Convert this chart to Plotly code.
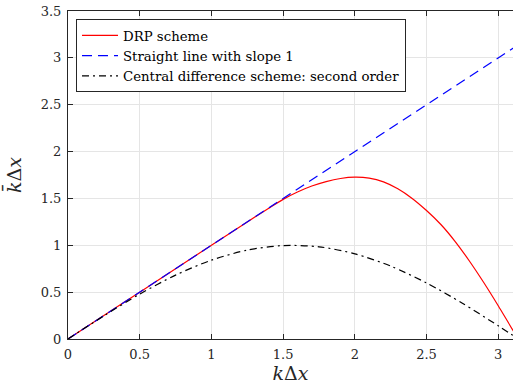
import plotly.graph_objects as go

# DRP scheme
drp_x = [0, 0.25, 0.5, 0.75, 1.0, 1.25, 1.4, 1.5, 1.6, 1.7, 1.8, 1.9, 2.0, 2.1, 2.2, 2.3, 2.4, 2.5, 2.6, 2.7, 2.8, 2.9, 3.0, 3.1, 3.1416]
drp_y = [0, 0.25, 0.5, 0.75, 1.0, 1.249, 1.396, 1.49, 1.568, 1.632, 1.68, 1.713, 1.727, 1.717, 1.677, 1.603, 1.50, 1.371, 1.222, 1.04, 0.83, 0.60, 0.355, 0.10, 0.0]

# Straight line with slope 1
line_x = [0, 3.1416]
line_y = [0, 3.1416]

# Central difference scheme: second order
cd_x = [0, 0.25, 0.5, 0.75, 1.0, 1.25, 1.5, 1.75, 2.0, 2.25, 2.5, 2.75, 3.0, 3.1416]
cd_y = [0, 0.247, 0.479, 0.682, 0.841, 0.949, 0.997, 0.984, 0.909, 0.778, 0.598, 0.382, 0.141, 0.0]

x_ticks = [0, 0.5, 1, 1.5, 2, 2.5, 3]
x_tick_labels = ["0", "0.5", "1", "1.5", "2", "2.5", "3"]
y_ticks = [0, 0.5, 1, 1.5, 2, 2.5, 3, 3.5]
y_tick_labels = ["0", "0.5", "1", "1.5", "2", "2.5", "3", "3.5"]

FONT = "DejaVu Serif"
AX = "#262626"

fig = go.Figure()
fig.add_trace(go.Scatter(x=drp_x, y=drp_y, mode="lines", name="DRP scheme",
                         line=dict(color="#ff0000", width=1.2, shape="spline", smoothing=0.8)))
fig.add_trace(go.Scatter(x=line_x, y=line_y, mode="lines", name="Straight line with slope 1",
                         line=dict(color="#0000ff", width=1.2, dash="10px,6px")))
fig.add_trace(go.Scatter(x=cd_x, y=cd_y, mode="lines", name="Central difference scheme: second order",
                         line=dict(color="#000000", width=1.2, dash="7px,4px,2px,4px", shape="spline", smoothing=0.8)))

fig.update_layout(
    width=513, height=388,
    margin=dict(l=68, r=0, t=11, b=49),
    paper_bgcolor="white", plot_bgcolor="white",
    font=dict(family=FONT, size=13, color=AX),
    showlegend=True,
    legend=dict(x=0.018, y=0.975, xanchor="left", yanchor="top",
                bgcolor="white", bordercolor=AX, borderwidth=1,
                font=dict(family=FONT, size=13.3, color="black"),
                tracegroupgap=0, itemwidth=36),
)
fig.update_xaxes(range=[0, 3.103], tickvals=x_ticks, ticktext=x_tick_labels,
                 showgrid=True, gridcolor="#e5e5e5", gridwidth=1,
                 showline=True, linecolor=AX, linewidth=1, mirror="ticks",
                 ticks="inside", ticklen=5, tickcolor=AX, zeroline=False,
                 ticklabelstandoff=3,
                 title=dict(text="<i>k</i>Δ<i>x</i>", font=dict(family=FONT, size=19, color=AX), standoff=4))
fig.update_yaxes(range=[0, 3.5], tickvals=y_ticks, ticktext=y_tick_labels,
                 showgrid=True, gridcolor="#e5e5e5", gridwidth=1,
                 showline=True, linecolor=AX, linewidth=1, mirror=False,
                 ticks="inside", ticklen=5, tickcolor=AX, zeroline=False,
                 ticklabelstandoff=3,
                 title=dict(text="<i>k̄</i>Δ<i>x</i>", font=dict(family=FONT, size=19, color=AX), standoff=14))

fig.write_html("out.html")
